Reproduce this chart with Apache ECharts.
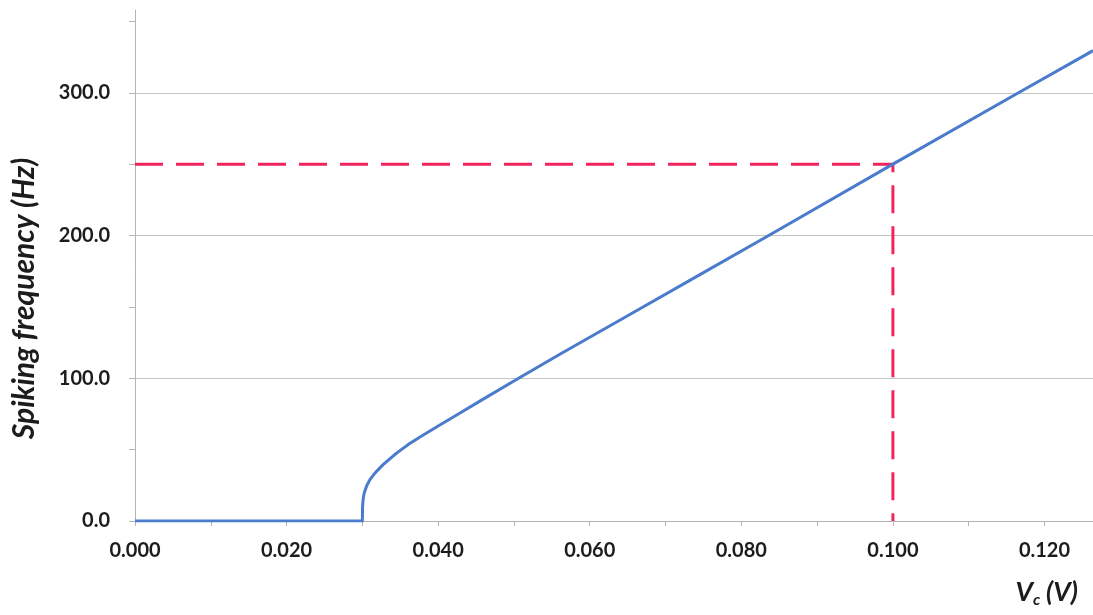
<!DOCTYPE html>
<html>
<head>
<meta charset="utf-8">
<title>Spiking frequency vs control voltage</title>
<script src="https://cdn.jsdelivr.net/npm/echarts@6/dist/echarts.min.js"></script>
<style>
  html, body { margin: 0; padding: 0; background: #ffffff; }
  #chart { width: 1093px; height: 615px; }
</style>
</head>
<body>
<div id="chart"></div>
<script>
// Control voltage Vc (V) and the resulting spiking frequency (Hz)
const vcValues = [
  0.000, 0.0300, 0.03002, 0.03005, 0.0301, 0.0302, 0.0303, 0.0306, 0.0308,
  0.0310, 0.0315, 0.0320, 0.0327, 0.0335, 0.0342, 0.0350, 0.0362, 0.0375,
  0.0400, 0.0430, 0.0455, 0.0505, 0.0560, 0.0650, 0.0750, 0.0835, 0.1000,
  0.1168, 0.1264
];
const freqValues = [
  0, 0, 9, 12, 15, 18.5, 20.5, 25, 27,
  29, 32.5, 35.5, 39.3, 43, 46.2, 49.5, 54.1, 58.5,
  66.5, 76, 84, 99.7, 116.6, 143.8, 174, 199.7, 250,
  300.7, 329.5
];

// Operating point marked with the dashed guides
const markVc = 0.100;
const markFreq = 250;

// Axis tick labels
const xTickLabels = ['0.000', '0.020', '0.040', '0.060', '0.080', '0.100', '0.120'];
const yTickLabels = ['0.0', '100.0', '200.0', '300.0'];

const curve = vcValues.map((v, i) => [v, freqValues[i]]);
const guide = [[0, markFreq], [markVc, markFreq], [markVc, 0]];

const labelFont = { fontFamily: 'Lato', fontWeight: 'bold', fontSize: 20, color: '#1c1c1c' };
const gridGray = '#c4c4c4';
const axisGray = '#b4b4b4';
const clear = 'rgba(0,0,0,0)';

const chart = echarts.init(document.getElementById('chart'), null, { renderer: 'canvas' });
chart.setOption({
  backgroundColor: '#ffffff',
  animation: false,
  grid: { left: 135, right: 0, top: 10, bottom: 94, containLabel: false },
  xAxis: {
    type: 'value',
    min: 0,
    max: 0.1264,
    interval: 0.01,
    name: '{v|V}{s|c}{v| (V)}',
    nameLocation: 'end',
    nameGap: -15,
    nameTextStyle: {
      align: 'right',
      verticalAlign: 'top',
      padding: [55, 0, 0, 0],
      rich: {
        v: { fontFamily: 'Lato', fontWeight: 'bold', fontStyle: 'italic', fontSize: 27, lineHeight: 32, color: '#1c1c1c', verticalAlign: 'middle' },
        s: { fontFamily: 'Lato', fontWeight: 'bold', fontStyle: 'italic', fontSize: 16, lineHeight: 32, color: '#1c1c1c', verticalAlign: 'bottom' }
      }
    },
    axisLine: { show: true, lineStyle: { color: axisGray, width: 1 } },
    axisTick: { show: true, inside: false, length: 5, lineStyle: { color: axisGray } },
    splitLine: { show: false },
    axisLabel: Object.assign({
      margin: 20,
      showMaxLabel: false,
      formatter: function (v) {
        const k = Math.round(v * 1000);
        if (k % 20 !== 0) return '';
        const s = (k / 1000).toFixed(3);
        return xTickLabels.indexOf(s) >= 0 ? s : '';
      }
    }, labelFont)
  },
  yAxis: {
    type: 'value',
    min: 0,
    max: 358,
    interval: 50,
    name: 'Spiking frequency (Hz)',
    nameLocation: 'middle',
    nameGap: 96,
    nameTextStyle: {
      fontFamily: 'Lato', fontWeight: 'bold', fontStyle: 'italic', fontSize: 30, color: '#1c1c1c',
      padding: [0, 66, 0, 0]
    },
    axisLine: { show: true, lineStyle: { color: axisGray, width: 1 } },
    axisTick: { show: true, inside: false, length: 6, lineStyle: { color: axisGray } },
    splitLine: {
      show: true,
      lineStyle: {
        width: 1,
        // grid lines only at the labelled hundreds
        color: [gridGray, clear, gridGray, clear, gridGray, clear, gridGray, clear, clear]
      }
    },
    axisLabel: Object.assign({
      margin: 25,
      showMaxLabel: false,
      formatter: function (v) {
        const s = v.toFixed(1);
        return yTickLabels.indexOf(s) >= 0 ? s : '';
      }
    }, labelFont)
  },
  series: [
    {
      name: 'guide',
      type: 'line',
      data: guide,
      showSymbol: false,
      silent: true,
      lineStyle: { color: '#f2245e', width: 3, type: [28, 13] },
      z: 2
    },
    {
      name: 'frequency',
      type: 'line',
      data: curve,
      showSymbol: false,
      smooth: false,
      clip: true,
      lineStyle: { color: '#4a7bcc', width: 3, join: 'round' },
      z: 3
    }
  ]
});
</script>
</body>
</html>
